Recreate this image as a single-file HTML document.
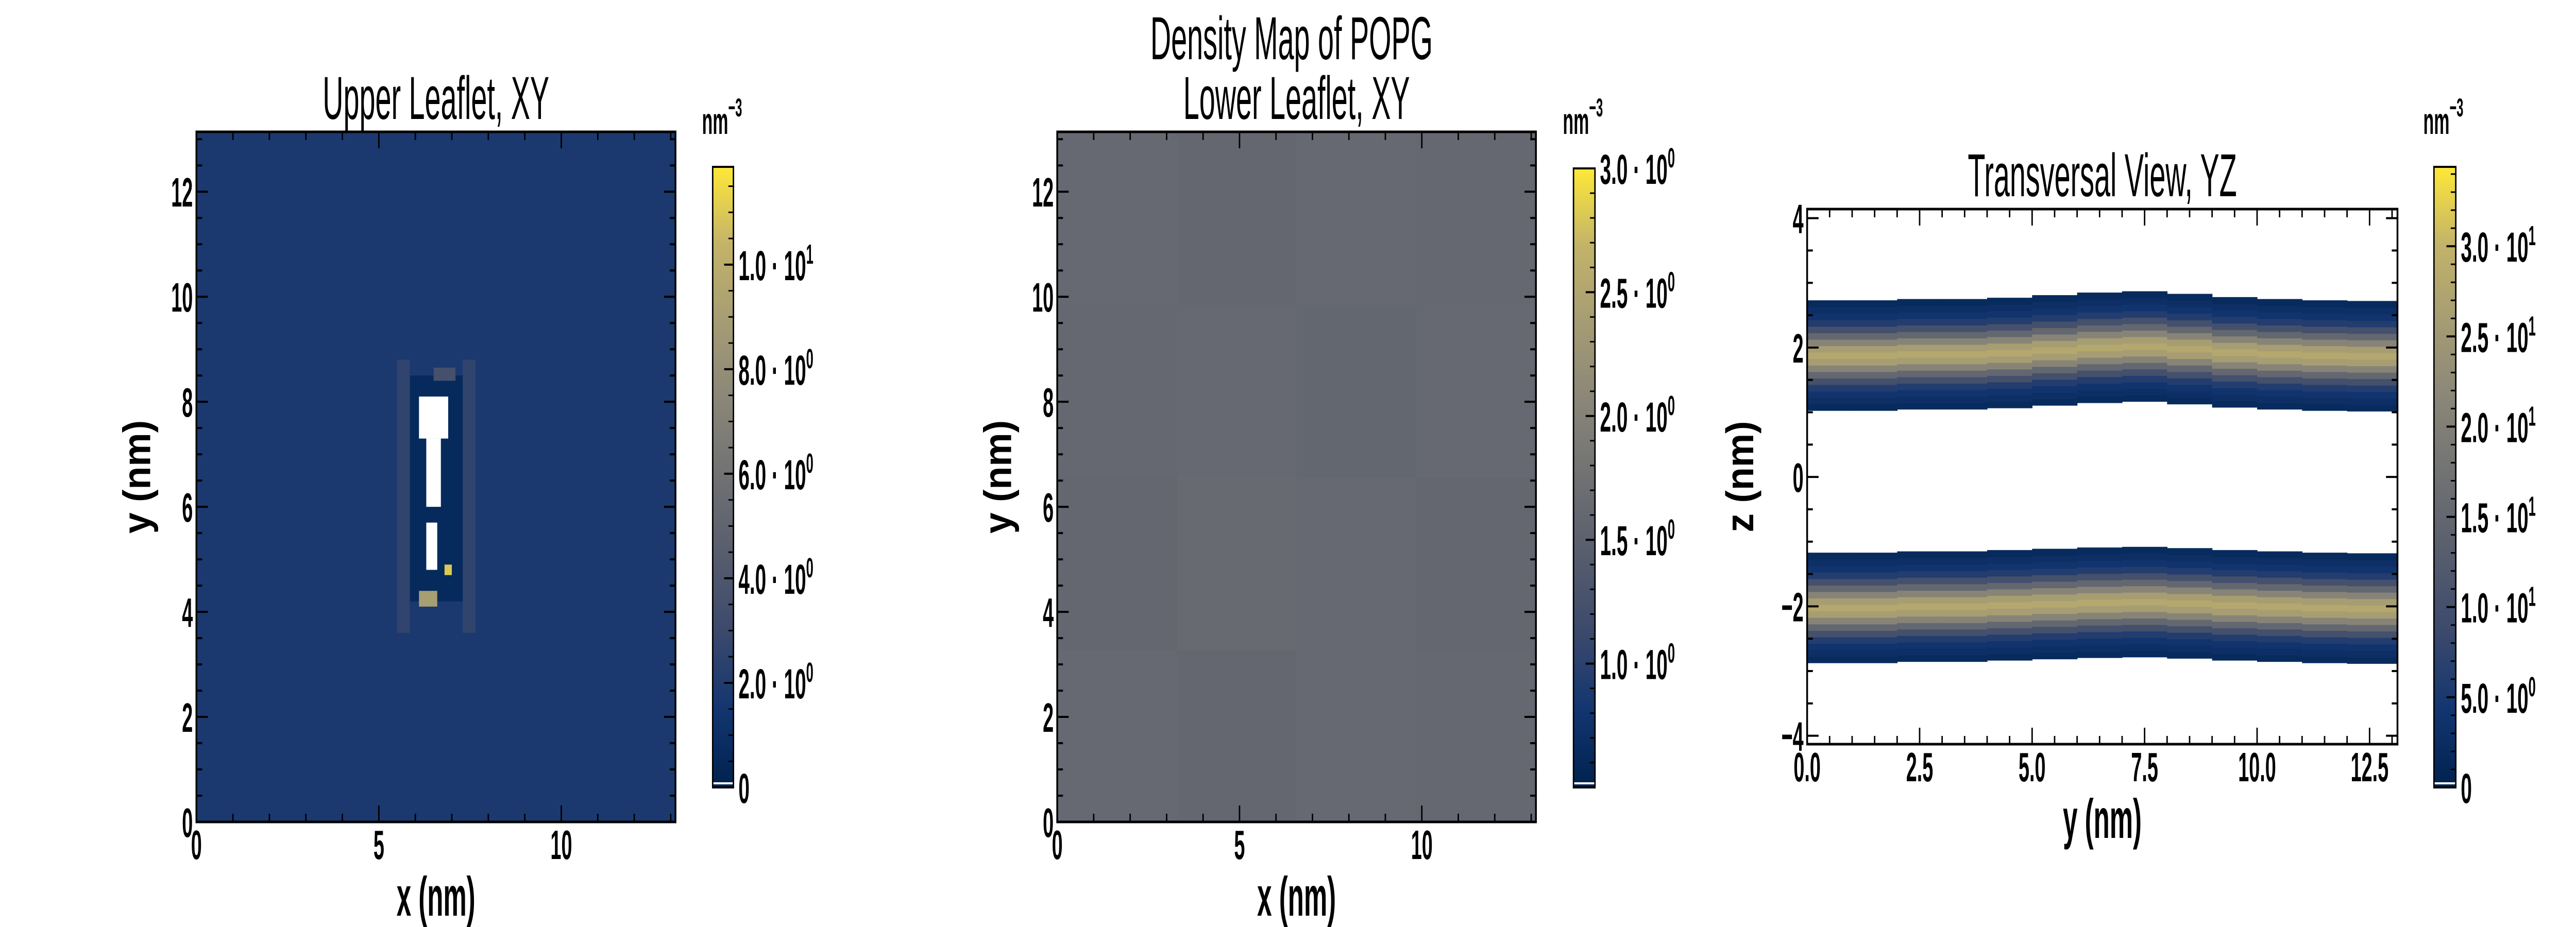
<!DOCTYPE html>
<html><head><meta charset="utf-8">
<meta name="viewport" content="width=7200, initial-scale=1">
<style>
html,body{margin:0;padding:0;background:#fff;width:100vw;height:100vh;overflow:hidden;}
svg{display:block;overflow:hidden;width:100vw;height:100vh;}
text{font-family:"Liberation Sans Narrow","Liberation Sans",sans-serif;fill:#000;}
</style></head>
<body>
<svg id="fig" viewBox="0 0 7200 1800" preserveAspectRatio="none" xmlns="http://www.w3.org/2000/svg">
<defs>
<linearGradient id="cividis" x1="0" y1="1" x2="0" y2="0">
<stop offset="0" stop-color="#00224e"/><stop offset="0.125" stop-color="#123570"/>
<stop offset="0.25" stop-color="#3b496c"/><stop offset="0.375" stop-color="#575d6d"/>
<stop offset="0.5" stop-color="#707173"/><stop offset="0.625" stop-color="#8a8678"/>
<stop offset="0.75" stop-color="#a59c74"/><stop offset="0.875" stop-color="#c3b369"/>
<stop offset="1" stop-color="#fee838"/>
</linearGradient>
</defs>
<text x="3610" y="115" font-size="118" text-anchor="middle" transform="translate(3610 0) scale(0.68 1) translate(-3610 0)">Density Map of POPG</text>
</svg>
<script>
// ---------- data ----------
// Upper leaflet: background density and localized features [x, y, w, h, value] (null = empty bin)
const upperBackground = 1.8;
const upperFeatures = [
  [5.8, 4.2, 1.5, 4.3, 0.6],
  [5.5, 3.6, 0.35, 5.2, 2.6],
  [7.3, 3.6, 0.35, 5.2, 2.6],
  [6.1, 4.1, 0.5, 0.3, 9.0],
  [6.8, 4.7, 0.2, 0.2, 11.0],
  [6.5, 8.4, 0.6, 0.25, 3.5],
  [6.1, 7.3, 0.8, 0.8, null],
  [6.3, 6.0, 0.4, 1.3, null],
  [6.3, 4.8, 0.3, 0.9, null]
];
// Lower leaflet: coarse block means (4x4, rows from y=0 upward)
const lowerGrid = [
  [1.62, 1.60, 1.63, 1.61],
  [1.60, 1.64, 1.62, 1.60],
  [1.61, 1.62, 1.59, 1.62],
  [1.63, 1.60, 1.62, 1.61]
];
// Transversal: y columns (nm), band centres (nm), density profile vs offset (nm)
const yzColumns = [0,1,2,3,4,5,6,7,8,9,10,11,12,13];
const topCenter = [1.88,1.88,1.9,1.9,1.92,1.96,2.0,2.02,1.98,1.93,1.9,1.88,1.87,1.87];
const botCenter = [-2.02,-2.02,-2.0,-2.0,-1.98,-1.96,-1.94,-1.93,-1.95,-1.98,-2.0,-2.02,-2.03,-2.03];
const profOffset = [-0.8,-0.7,-0.6,-0.5,-0.4,-0.3,-0.2,-0.1,0,0.1,0.2,0.3,0.4,0.5,0.6,0.7,0.8];
const profDensity = [2,3,4,6,10,15,21,26,28,26,21,15,10,6,4,3,2];

// ---------- helpers ----------
const NS = "http://www.w3.org/2000/svg";
const svg = document.getElementById('fig');
const SX = 0.68;
const stops = [[0,[0,34,78]],[0.125,[18,53,112]],[0.25,[59,73,108]],[0.375,[87,93,109]],[0.5,[112,113,115]],[0.625,[138,134,120]],[0.75,[165,156,116]],[0.875,[195,179,105]],[1,[254,232,56]]];
function cividis(t){t=Math.max(0,Math.min(1,t));for(let i=1;i<stops.length;i++){if(t<=stops[i][0]){const a=stops[i-1],b=stops[i];const f=(t-a[0])/(b[0]-a[0]);const c=a[1].map((v,k)=>Math.round(v+(b[1][k]-v)*f));return `rgb(${c[0]},${c[1]},${c[2]})`;}}return 'rgb(254,232,56)';}
function el(tag, attrs, parent){const e=document.createElementNS(NS,tag);for(const k in attrs)e.setAttribute(k,attrs[k]);(parent||svg).appendChild(e);return e;}
function txt(s, attrs, parent){const a=Object.assign({},attrs);if(!a.transform){a.transform=`translate(${a.x} 0) scale(${SX} 1) translate(${-a.x} 0)`;}const t=el('text',a,parent);t.textContent=s;return t;}

function axes(cfg){
  const g=el('g',{});
  
  
  const sx=v=>cfg.x0+(v-cfg.xmin)/(cfg.xmax-cfg.xmin)*(cfg.x1-cfg.x0);
  const sy=v=>cfg.y1-(v-cfg.ymin)/(cfg.ymax-cfg.ymin)*(cfg.y1-cfg.y0);
  return {g,sx,sy};
}
function frameAndTicks(cfg,A){
  const {g,sx,sy}=A;
  const tg=el('g',{stroke:'#000','stroke-width':4},g);
  for(let v=cfg.xminor0; v<=cfg.xmax+1e-9; v+=cfg.xminor){
    const major=Math.abs(v/cfg.xmajor-Math.round(v/cfg.xmajor))<1e-6; const L=major?32:16; const x=sx(v);
    el('line',{x1:x,y1:cfg.y1,x2:x,y2:cfg.y1-L},tg); el('line',{x1:x,y1:cfg.y0,x2:x,y2:cfg.y0+L},tg);
  }
  for(let v=cfg.yminor0; v<=cfg.ymax+1e-9; v+=cfg.yminor){
    const major=Math.abs(v/cfg.ymajor-Math.round(v/cfg.ymajor))<1e-6; const L=major?32:16; const y=sy(v);
    el('line',{x1:cfg.x0,y1:y,x2:cfg.x0+L,y2:y},tg); el('line',{x1:cfg.x1,y1:y,x2:cfg.x1-L,y2:y},tg);
  }
  const fr=el('rect',{x:cfg.x0,y:cfg.y0,width:cfg.x1-cfg.x0,height:cfg.y1-cfg.y0,fill:'none',stroke:'#000','stroke-width':5},g);
  
  
  cfg.xticks.forEach(v=>{const t=txt(cfg.xfmt(v),{x:sx(v),y:cfg.xlabY,'font-size':80,'text-anchor':'middle','font-weight':'bold'},g);
    
    });
  cfg.yticks.forEach(v=>{const t=txt(cfg.yfmt(v),{x:cfg.x0-10,y:sy(v)+29,'font-size':80,'text-anchor':'end','font-weight':'bold'},g);
    
    });
  const xl=txt(cfg.xlabel,{x:(cfg.x0+cfg.x1)/2,y:cfg.xtitleY,'font-size':108,'font-weight':'bold','text-anchor':'middle'},g);
  
  
  const yl=txt(cfg.ylabel,{x:0,y:0,'font-size':108,'font-weight':'bold','text-anchor':'middle',transform:`translate(${cfg.ytitleX} ${(cfg.y0+cfg.y1)/2}) rotate(-90) scale(${SX} 1)`},g);
  
  
  cfg.title.forEach((s,i)=>{const t=txt(s,{x:(cfg.x0+cfg.x1)/2,y:cfg.titleY+i*116,'font-size':118,'text-anchor':'middle'},g);
    
    });
}
function colorbar(cb){
  const g=el('g',{});
  
  
  const h=cb.y1-cb.y0;
  el('rect',{x:cb.x0,y:cb.y0,width:cb.x1-cb.x0,height:h,fill:'url(#cividis)'},g);
  el('line',{x1:cb.x0,y1:cb.y1-8,x2:cb.x1,y2:cb.y1-8,stroke:'#fff','stroke-width':4},g);
  el('rect',{x:cb.x0,y:cb.y0,width:cb.x1-cb.x0,height:h,fill:'none',stroke:'#000','stroke-width':4},g);
  const sy=v=>cb.y1-(v-cb.vmin)/(cb.vmax-cb.vmin)*h;
  for(let v=cb.minor0; v<=cb.vmax+1e-9; v+=cb.minor){const y=sy(v);el('line',{x1:cb.x1,y1:y,x2:cb.x1-14,y2:y,stroke:'#000','stroke-width':3},g);}
  cb.ticks.forEach((v,i)=>{const y=sy(v);el('line',{x1:cb.x1,y1:y,x2:cb.x1-26,y2:y,stroke:'#000','stroke-width':4},g);
    const x=cb.x1+14;
    const t=el('text',{x:x,y:y+30,'font-size':82,'font-weight':'bold',transform:`translate(${x} 0) scale(${SX} 1) translate(${-x} 0)`},g);
    
    
    const lab=cb.labels[i];
    if(lab[1]===null){t.textContent=lab[0];}
    else{t.appendChild(document.createTextNode(lab[0]+' \u00b7 10'));const s=document.createElementNS(NS,'tspan');s.setAttribute('dy','-32');s.setAttribute('font-size','54');s.textContent=lab[1];t.appendChild(s);}
  });
  const ux=cb.x0-30;
  const u=el('text',{x:ux,y:260,'font-size':72,'font-weight':'bold',transform:`translate(${ux} 0) scale(${SX} 1) translate(${-ux} 0)`},g);
  
  
  u.appendChild(document.createTextNode('nm'));
  const s=document.createElementNS(NS,'tspan');s.setAttribute('dy','-34');s.setAttribute('font-size','50');s.textContent='\u22123';u.appendChild(s);
}

// ---------- panel 1 ----------
const c1={name:'upper-leaflet-panel',x0:549,x1:1888,y0:256,y1:1596,xmin:0,xmax:13.13,ymin:0,ymax:13.14,
  xmajor:5,xminor:1,xminor0:0,ymajor:2,yminor:0.5,yminor0:0,xticks:[0,5,10],yticks:[0,2,4,6,8,10,12],
  xfmt:v=>String(v),yfmt:v=>String(v),xlabY:1668,xtitleY:1778,ytitleX:420,xlabel:'x (nm)',ylabel:'y (nm)',
  title:['Upper Leaflet, XY'],titleY:231};
const A1=axes(c1);const vmax1=11.87;
el('rect',{x:c1.x0,y:c1.y0,width:c1.x1-c1.x0,height:c1.y1-c1.y0,fill:cividis(upperBackground/vmax1)},A1.g);
upperFeatures.forEach(f=>{const r=el('rect',{x:A1.sx(f[0]),y:A1.sy(f[1]+f[3]),width:A1.sx(f[0]+f[2])-A1.sx(f[0]),height:A1.sy(f[1])-A1.sy(f[1]+f[3]),fill:f[4]===null?'#fff':cividis(f[4]/vmax1)},A1.g);
  
  });
frameAndTicks(c1,A1);
colorbar({name:'upper-colorbar',x0:1992,x1:2050,y0:324,y1:1529,vmin:0,vmax:vmax1,minor0:0,minor:0.5,
  ticks:[0,2,4,6,8,10],labels:[['0',null],['2.0','0'],['4.0','0'],['6.0','0'],['8.0','0'],['1.0','1']]});

// ---------- panel 2 ----------
const c2={name:'lower-leaflet-panel',x0:2955,x1:4293,y0:256,y1:1596,xmin:0,xmax:13.13,ymin:0,ymax:13.14,
  xmajor:5,xminor:1,xminor0:0,ymajor:2,yminor:0.5,yminor0:0,xticks:[0,5,10],yticks:[0,2,4,6,8,10,12],
  xfmt:v=>String(v),yfmt:v=>String(v),xlabY:1668,xtitleY:1778,ytitleX:2826,xlabel:'x (nm)',ylabel:'y (nm)',
  title:['Lower Leaflet, XY'],titleY:231};
const A2=axes(c2);const vmin2=0.5,vmax2=3.0;
const nb=lowerGrid.length,bw=13.13/nb,bh=13.14/nb;
lowerGrid.forEach((row,j)=>row.forEach((v,i)=>{const r=el('rect',{x:A2.sx(i*bw),y:A2.sy((j+1)*bh),width:A2.sx(bw)-A2.sx(0)+1,height:A2.sy(0)-A2.sy(bh)+1,fill:cividis((v-vmin2)/(vmax2-vmin2))},A2.g);
  
  }));
frameAndTicks(c2,A2);
colorbar({name:'lower-colorbar',x0:4398,x1:4458,y0:327,y1:1529,vmin:vmin2,vmax:vmax2,minor0:0.6,minor:0.1,
  ticks:[1.0,1.5,2.0,2.5,3.0],labels:[['1.0','0'],['1.5','0'],['2.0','0'],['2.5','0'],['3.0','0']]});

// ---------- panel 3 ----------
const c3={name:'transversal-panel',x0:5051,x1:6701,y0:406,y1:1445,xmin:0,xmax:13.12,ymin:-4.13,ymax:4.14,
  xmajor:2.5,xminor:0.5,xminor0:0,ymajor:2,yminor:0.5,yminor0:-4,xticks:[0,2.5,5,7.5,10,12.5],yticks:[-4,-2,0,2,4],
  xfmt:v=>v.toFixed(1),yfmt:v=>(v<0?'\u2212'+(-v):String(v)),xlabY:1517,xtitleY:1627,ytitleX:4900,xlabel:'y (nm)',ylabel:'z (nm)',
  title:['Transversal View, YZ'],titleY:381};
const A3=axes(c3);const vmax3=34.4;
yzColumns.forEach((y,i)=>{
  const xa=A3.sx(y),xb=A3.sx(Math.min(y+1,c3.xmax));
  [topCenter[i],botCenter[i]].forEach(cz=>{
    profOffset.forEach((o,k)=>{const z=cz+o;const r=el('rect',{x:xa,y:A3.sy(z+0.05),width:xb-xa+1,height:A3.sy(z-0.05)-A3.sy(z+0.05)+1,fill:cividis(profDensity[k]/vmax3)},A3.g);
      
      });
  });
});
frameAndTicks(c3,A3);
colorbar({name:'transversal-colorbar',x0:6803,x1:6864,y0:324,y1:1529,vmin:0,vmax:vmax3,minor0:0,minor:1,
  ticks:[0,5,10,15,20,25,30],labels:[['0',null],['5.0','0'],['1.0','1'],['1.5','1'],['2.0','1'],['2.5','1'],['3.0','1']]});
</script>
</body></html>
